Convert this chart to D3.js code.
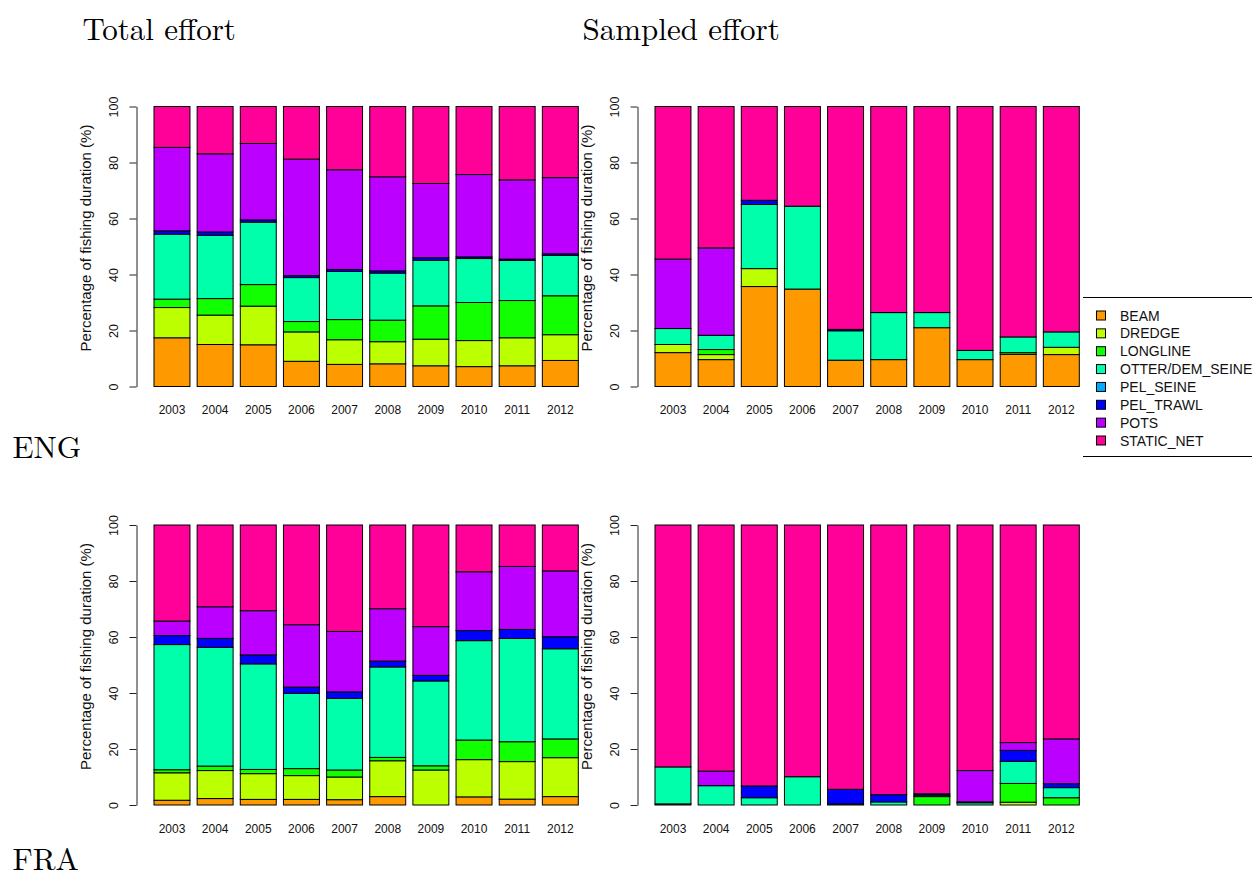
<!DOCTYPE html>
<html>
<head>
<meta charset="utf-8">
<script src="https://cdn.jsdelivr.net/npm/d3@7"></script>
<style>
  body { margin: 0; background: #fff; }
  svg { display: block; }
</style>
</head>
<body>
<svg id="chart"></svg>
<script>
// ---- data (percent of fishing duration, one row per year) ----
const years = [2003, 2004, 2005, 2006, 2007, 2008, 2009, 2010, 2011, 2012];
const gears = ['BEAM', 'DREDGE', 'LONGLINE', 'OTTER/DEM_SEINE', 'PEL_SEINE', 'PEL_TRAWL', 'POTS', 'STATIC_NET'];
const gearColors = ['#FF9900', '#BBFF00', '#11FF00', '#00FFAA', '#00AAFF', '#0000FF', '#BB00FF', '#FF0099'];
const yTicks = [0, 20, 40, 60, 80, 100];

//              BEAM DREDGE LONGL OTTER PSEINE PTRAWL POTS STATIC
const engTotal = [
  [17.4, 10.8, 3.0, 23.2, 0, 1.2, 29.8, 14.6],
  [15.0, 10.5, 5.9, 22.6, 0, 1.2, 27.9, 16.9],
  [14.9, 13.8, 7.7, 22.3, 0, 0.8, 27.3, 13.2],
  [9.0, 10.5, 3.7, 15.7, 0, 0.7, 41.6, 18.8],
  [7.9, 8.8, 7.2, 17.2, 0, 0.7, 35.6, 22.6],
  [8.1, 7.9, 7.7, 16.8, 0, 0.8, 33.6, 25.1],
  [7.4, 9.5, 11.9, 16.3, 0, 0.9, 26.5, 27.5],
  [7.1, 9.3, 13.6, 15.7, 0, 0.6, 29.4, 24.3],
  [7.4, 10.0, 13.3, 14.3, 0, 0.5, 28.3, 26.2],
  [9.3, 9.2, 13.9, 14.4, 0, 0.6, 27.2, 25.4]
];
const engSampled = [
  [12.1, 2.9, 0, 5.7, 0, 0, 24.8, 54.5],
  [9.6, 1.8, 1.8, 5.1, 0, 0, 31.2, 50.5],
  [35.7, 6.4, 0, 22.9, 0, 1.5, 0, 33.5],
  [34.8, 0, 0, 29.6, 0, 0, 0, 35.6],
  [9.4, 0, 0, 10.5, 0, 0.5, 0, 79.6],
  [9.6, 0, 0, 16.8, 0, 0, 0, 73.6],
  [21.0, 0, 0, 5.4, 0, 0, 0, 73.6],
  [9.6, 0, 0, 3.3, 0, 0, 0, 87.1],
  [11.5, 0, 0.6, 5.6, 0, 0, 0, 82.3],
  [11.4, 2.6, 0, 5.5, 0, 0, 0, 80.5]
];
const fraTotal = [
  [1.7, 9.8, 1.1, 44.7, 0, 3.2, 5.2, 34.3],
  [2.3, 10.0, 1.6, 42.4, 0, 3.2, 11.3, 29.2],
  [2.0, 9.2, 1.5, 37.7, 0, 3.2, 15.8, 30.6],
  [2.0, 8.5, 2.5, 26.9, 0, 2.2, 22.3, 35.6],
  [1.9, 8.1, 2.5, 25.6, 0, 2.3, 21.6, 38.0],
  [3.0, 12.8, 1.2, 32.3, 0, 2.1, 18.7, 29.9],
  [0, 12.5, 1.5, 30.3, 0, 2.0, 17.4, 36.3],
  [2.9, 13.3, 7.0, 35.5, 0, 3.6, 21.0, 16.7],
  [2.1, 13.4, 7.1, 36.9, 0, 3.2, 22.5, 14.8],
  [3.0, 13.9, 6.7, 32.2, 0, 4.3, 23.5, 16.4]
];
const fraSampled = [
  [0.4, 0, 0, 13.2, 0, 0, 0, 86.4],
  [0, 0, 0, 6.9, 0, 0, 5.2, 87.9],
  [0, 0, 0, 2.6, 0, 4.2, 0, 93.2],
  [0, 0, 0, 10.1, 0, 0, 0, 89.9],
  [0, 0, 0, 0.4, 0, 5.2, 0, 94.4],
  [0, 0, 0, 1.1, 0, 2.6, 0, 96.3],
  [0, 0, 3.0, 0.5, 0, 0.5, 0, 96.0],
  [0, 0, 0, 0.8, 0, 0.3, 11.2, 87.7],
  [0, 1.0, 6.7, 7.9, 0, 3.9, 2.8, 77.7],
  [0, 0, 2.6, 3.6, 0, 1.4, 16.0, 76.4]
];

const W = 1252, H = 878;
const svg = d3.select('#chart').attr('width', W).attr('height', H);

const color = d3.scaleOrdinal().domain(gears).range(gearColors);
const stack = d3.stack().keys(gears);

// panel offsets (dx, dy) relative to the top-left panel
const panels = [
  { rows: engTotal, dx: 0, dy: 0 },
  { rows: engSampled, dx: 501, dy: 0 },
  { rows: fraTotal, dx: 0, dy: 418.5 },
  { rows: fraSampled, dx: 501, dy: 418.5 }
];

panels.forEach(p => drawPanel(p));

function drawPanel(p) {
  const g = svg.append('g').attr('transform', `translate(${p.dx},${p.dy})`);

  const x = d3.scaleBand()
    .domain(years)
    .range([150.4, 581.9])
    .paddingInner(1 / 6)
    .paddingOuter(1 / 12);

  const y = d3.scaleLinear()
    .domain([0, 100])
    .range([386.5, 106.5]);

  const table = p.rows.map((r, i) => {
    const o = { year: years[i] };
    gears.forEach((k, j) => o[k] = r[j]);
    return o;
  });

  const series = stack(table);

  g.append('g')
    .selectAll('g')
    .data(series)
    .join('g')
    .attr('fill', d => color(d.key))
    .selectAll('rect')
    .data(d => d.filter(s => s[1] - s[0] > 0))
    .join('rect')
    .attr('x', d => x(d.data.year))
    .attr('y', d => y(d[1]))
    .attr('width', x.bandwidth())
    .attr('height', d => y(d[0]) - y(d[1]))
    .attr('stroke', '#000')
    .attr('stroke-width', 1);

  // y axis
  const ya = g.append('g')
    .attr('transform', 'translate(136.5,0)')
    .call(d3.axisLeft(y).tickValues(yTicks).tickSize(7).tickSizeOuter(0));
  ya.select('.domain').attr('stroke', '#222');
  ya.selectAll('.tick line').attr('stroke', '#222');
  ya.selectAll('text')
    .attr('x', 0)
    .attr('dy', null)
    .attr('transform', 'translate(-19,0) rotate(-90)')
    .attr('text-anchor', 'middle')
    .attr('fill', '#111')
    .style('font-family', '"Liberation Sans", Arial, sans-serif')
    .style('font-size', '12.5px');

  // x labels (no axis line, like barplot)
  const xa = g.append('g')
    .attr('transform', 'translate(0,414)')
    .call(d3.axisBottom(x).tickSize(0));
  xa.select('.domain').remove();
  xa.selectAll('text')
    .attr('y', 0)
    .attr('dy', 0)
    .attr('fill', '#111')
    .style('font-family', '"Liberation Sans", Arial, sans-serif')
    .style('font-size', '12px');

  g.append('text')
    .attr('transform', 'translate(91,238) rotate(-90)')
    .attr('text-anchor', 'middle')
    .attr('fill', '#111')
    .style('font-family', '"Liberation Sans", Arial, sans-serif')
    .style('font-size', '15px')
    .text('Percentage of fishing duration (%)');
}

// titles and country labels
const serif = '"Latin Modern Roman", "CMU Serif", "Liberation Serif", serif';
[
  { t: 'Total effort', x: 82.5, y: 40 },
  { t: 'Sampled effort', x: 582.5, y: 40 },
  { t: 'ENG', x: 12.5, y: 458 },
  { t: 'FRA', x: 12.5, y: 870 }
].forEach(d => {
  svg.append('text')
    .attr('x', d.x)
    .attr('y', d.y)
    .attr('fill', '#000')
    .style('font-family', serif)
    .style('font-size', '31px')
    .text(d.t);
});

// legend
const lg = svg.append('g').attr('transform', 'translate(1083,0)');
lg.append('line').attr('x1', 0).attr('x2', 200).attr('y1', 297.5).attr('y2', 297.5).attr('stroke', '#000');
lg.append('line').attr('x1', 0).attr('x2', 200).attr('y1', 456.5).attr('y2', 456.5).attr('stroke', '#000');

const ly = d3.scalePoint().domain(gears).range([315.5, 440.5]);
const items = lg.selectAll('.legend-item')
  .data(gears)
  .join('g')
  .attr('class', 'legend-item')
  .attr('transform', d => `translate(0,${ly(d)})`);

items.append('rect')
  .attr('x', 13.5)
  .attr('y', -4.5)
  .attr('width', 9)
  .attr('height', 9)
  .attr('fill', d => color(d))
  .attr('stroke', '#000');

items.append('text')
  .attr('x', 37)
  .attr('y', 5)
  .attr('fill', '#111')
  .style('font-family', '"Liberation Sans", Arial, sans-serif')
  .style('font-size', '14px')
  .text(d => d);
</script>
</body>
</html>
